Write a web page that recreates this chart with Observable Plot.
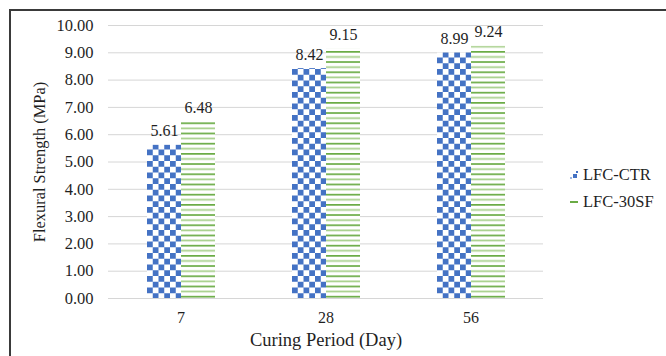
<!DOCTYPE html>
<html><head><meta charset="utf-8">
<script src="https://cdn.jsdelivr.net/npm/d3@7"></script>
<script src="https://cdn.jsdelivr.net/npm/@observablehq/plot@0.6"></script>
<style>
body{margin:0;background:#fff;}
#wrap{position:relative;width:666px;height:356px;overflow:hidden;font-family:"Liberation Serif","Times New Roman",serif;color:#1f1f1f;background:#fff;}
#frame{position:absolute;left:9px;top:9px;width:700px;height:400px;border-left:2px solid #3a3a3a;border-top:2px solid #3a3a3a;pointer-events:none;}
#legend{position:absolute;left:569px;top:161px;font-size:16.5px;line-height:27px;}
#legend .item{display:flex;align-items:center;white-space:nowrap;}
#legend svg{margin-right:5px;}
</style>
</head><body>
<div id="wrap"><div id="chart"></div><div id="frame"></div><div id="legend"></div></div>
<script>
const periods = ["7", "28", "56"];
const series = ["LFC-CTR", "LFC-30SF"];
const ctrValues = [5.61, 8.42, 8.99];
const sfValues = [6.48, 9.15, 9.24];
const yTicks = [0, 1, 2, 3, 4, 5, 6, 7, 8, 9, 10];

const rows = [];
periods.forEach((p, i) => {
  rows.push({period: p, series: series[0], value: ctrValues[i]});
  rows.push({period: p, series: series[1], value: sfValues[i]});
});

const serif = '"Liberation Serif","Times New Roman",serif';

const chart = Plot.plot({
  width: 666,
  height: 356,
  marginLeft: 107,
  marginRight: 122,
  marginTop: 25,
  marginBottom: 58,
  style: {fontFamily: serif, color: "#1f1f1f", background: "transparent"},
  fx: {domain: periods, paddingInner: 0, paddingOuter: 0},
  x: {domain: series, paddingInner: 0, paddingOuter: 1.11, axis: null},
  y: {domain: [0, 10]},
  marks: [
    Plot.gridY(yTicks, {stroke: "#d6d6d6", strokeOpacity: 1, strokeWidth: 1}),
    Plot.barY(rows.filter(d => d.series === series[0]), {fx: "period", x: "series", y: "value", fill: "url(#chk)", inset: 0}),
    Plot.barY(rows.filter(d => d.series === series[1]), {fx: "period", x: "series", y: "value", fill: "url(#grn)", inset: 0}),
    Plot.text(rows, {fx: "period", x: "series", y: "value", text: d => d.value.toFixed(2), dy: -14, lineAnchor: "middle", fontSize: 16, fontFamily: serif, fill: "#1f1f1f"}),
    Plot.axisY(yTicks, {tickSize: 0, tickPadding: 15, tickFormat: d => d.toFixed(2), fontSize: 16.5, fontFamily: serif, label: null}),
    Plot.axisY([], {tickSize: 0, fontSize: 16.4, fontFamily: serif,
      label: "Flexural Strength (MPa)", labelAnchor: "center", labelOffset: 75, labelArrow: false}),
    Plot.axisFx({anchor: "bottom", tickSize: 0, tickPadding: 13, fontSize: 16, fontFamily: serif, label: null}),
    Plot.axisFx([], {anchor: "bottom", tickSize: 0, fontSize: 18.5, fontFamily: serif,
      label: "Curing Period (Day)", labelAnchor: "center", labelOffset: 47, labelArrow: false})
  ]
});

const defs = d3.select(chart).insert("defs", ":first-child");
const c = 5.75;
const chk = defs.append("pattern").attr("id", "chk").attr("patternUnits", "userSpaceOnUse")
  .attr("width", 2 * c).attr("height", 2 * c).attr("x", 146).attr("y", 0);
chk.append("rect").attr("width", 2 * c).attr("height", 2 * c).attr("fill", "#ffffff");
chk.append("rect").attr("width", c).attr("height", c).attr("fill", "#4472c4");
chk.append("rect").attr("x", c).attr("y", c).attr("width", c).attr("height", c).attr("fill", "#4472c4");
const g = 5.1;
const grn = defs.append("pattern").attr("id", "grn").attr("patternUnits", "userSpaceOnUse")
  .attr("width", 4).attr("height", 2 * g).attr("x", 0).attr("y", 0);
grn.append("rect").attr("width", 4).attr("height", 2 * g).attr("fill", "#ffffff");
grn.append("rect").attr("y", 0).attr("width", 4).attr("height", 1.7).attr("fill", "#6aab45");
grn.append("rect").attr("y", g).attr("width", 4).attr("height", 1.7).attr("fill", "#a6cf8a");

document.getElementById("chart").appendChild(chart);

// legend
const legend = d3.select("#legend");
series.forEach((s, i) => {
  const item = legend.append("div").attr("class", "item");
  const sv = item.append("svg").attr("width", 9).attr("height", 10);
  if (i === 0) {
    sv.append("rect").attr("x", 4).attr("y", 4).attr("width", 4).attr("height", 4).attr("fill", "#4472c4");
    sv.append("rect").attr("x", 7).attr("y", 1).attr("width", 2).attr("height", 2).attr("fill", "#4472c4");
    sv.append("rect").attr("x", 1).attr("y", 7).attr("width", 2).attr("height", 2).attr("fill", "#9fb7e3");
  } else {
    sv.append("rect").attr("x", 1).attr("y", 4).attr("width", 8).attr("height", 2).attr("fill", "#6aab45");
  }
  item.append("span").text(s);
});
</script>
</body></html>
